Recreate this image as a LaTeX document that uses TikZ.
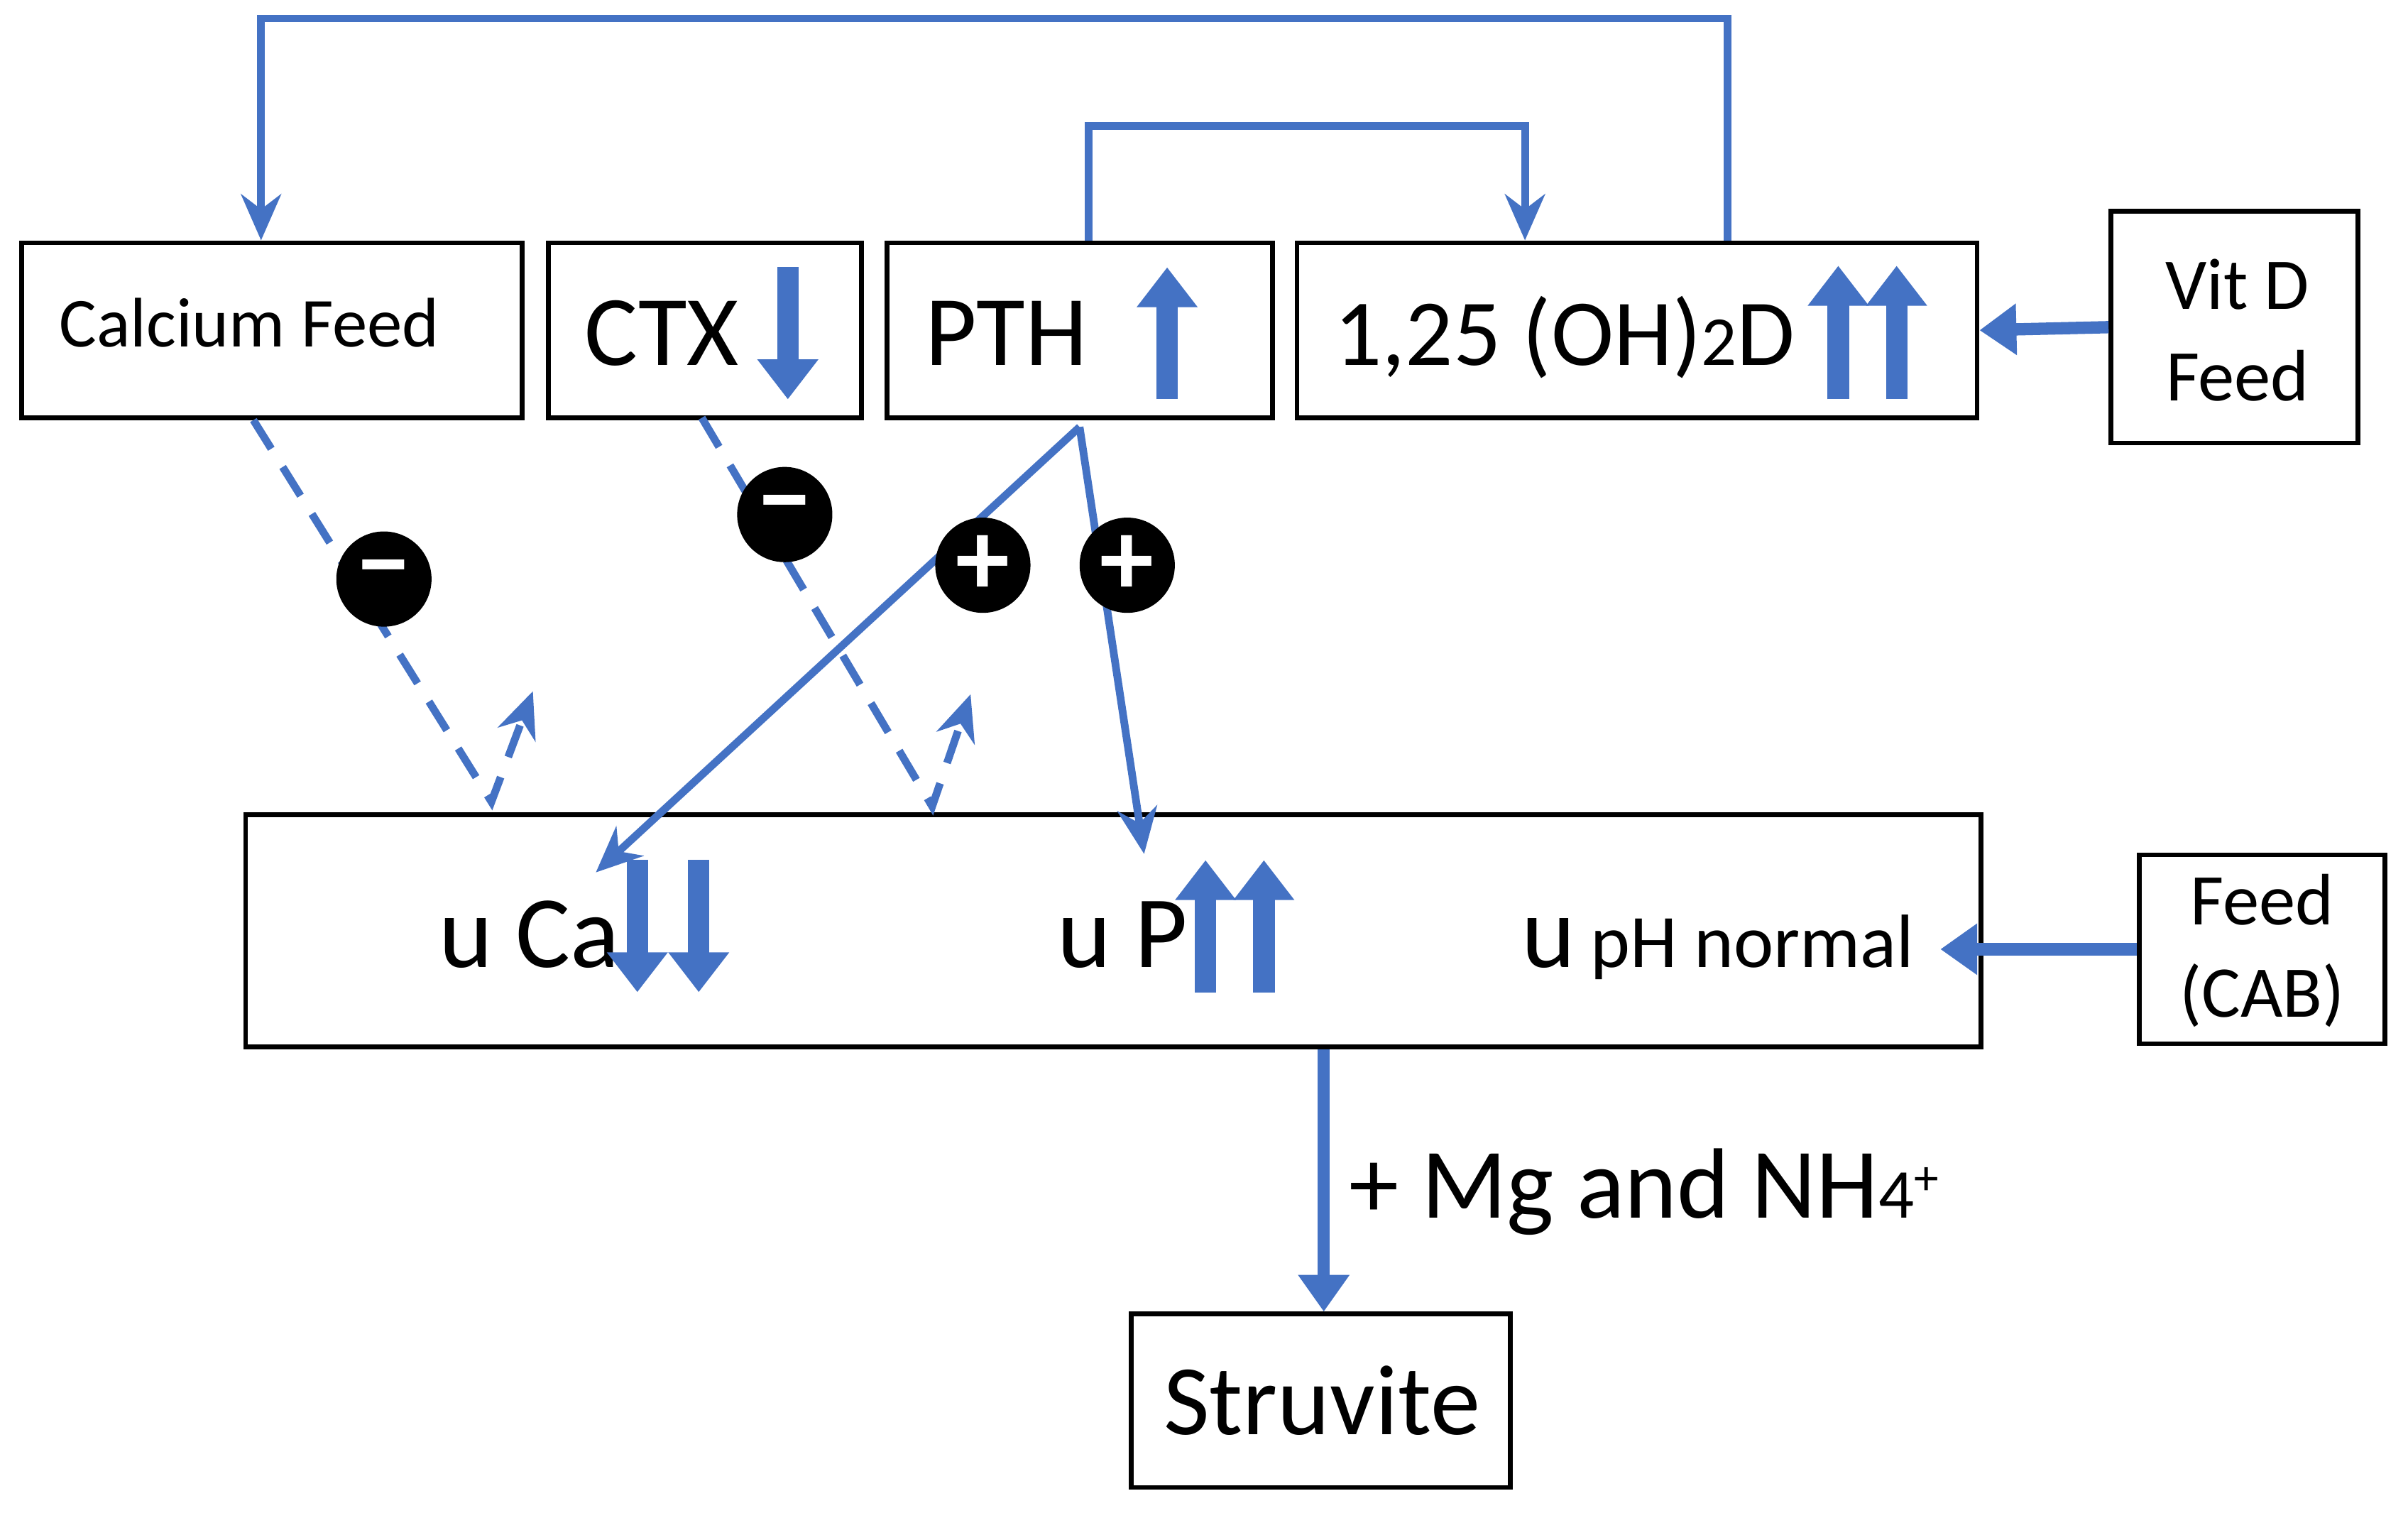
\documentclass[tikz,border=0pt]{standalone}
\usepackage{fontspec}
\setmainfont{Carlito}
\usetikzlibrary{arrows.meta}
\definecolor{cBlue}{RGB}{68,114,196}

\begin{document}
\begin{tikzpicture}[x=0.1mm, y=-0.1mm, line join=miter]

% Stiler.
\tikzset{
  box/.style={draw=black, line width=0.3mm, inner sep=0pt},
  lbl/.style={inner sep=0pt, anchor=base west, text=black},
  flow/.style={draw=cBlue, line width=0.5mm, -{Stealth[length=3mm,width=2.6mm]}},
  hint/.style={flow, dashed, dash pattern=on 2.2mm off 1.4mm},
  blk/.style={draw=cBlue, line width=1.4mm, -{Triangle[length=2.6mm,width=3.8mm]}},
  side/.style={draw=cBlue, line width=0.8mm, -{Triangle[length=2.4mm,width=3.2mm]}},
  sign/.style={circle, fill=black, minimum size=6.2mm, inner sep=0pt, text=white, font=\bfseries\fontsize{20}{20}\selectfont}
}

\useasboundingbox (0,0) rectangle (1568,985);

% Bokser.
\node (calc) [box, minimum width=326*0.1mm, minimum height=114*0.1mm] at (177,215) {};
\node (ctx)  [box, minimum width=204*0.1mm, minimum height=114*0.1mm] at (459,215) {};
\node (pth)  [box, minimum width=251*0.1mm, minimum height=114*0.1mm] at (703,215) {};
\node (vit)  [box, minimum width=443*0.1mm, minimum height=114*0.1mm] at (1066,215) {};
\node (vitd) [box, minimum width=161*0.1mm, minimum height=151*0.1mm] at (1455,213) {};
\node (urin) [box, minimum width=1130*0.1mm, minimum height=151*0.1mm] at (725,606) {};
\node (cab)  [box, minimum width=160*0.1mm, minimum height=123*0.1mm] at (1473,618) {};
\node (stru) [box, minimum width=247*0.1mm, minimum height=113*0.1mm] at (860,912) {};

% Tekster.
\node [lbl, font=\fontsize{13}{13}\selectfont] at (38,226) {Calcium Feed};
\node [lbl, font=\fontsize{18.5}{18.5}\selectfont] at (380,238) {CTX};
\node [lbl, font=\fontsize{18.5}{18.5}\selectfont] at (602,238) {PTH};
\node [lbl, font=\fontsize{17.5}{17.5}\selectfont] at (868,238) {1,25 (OH){\fontsize{13}{13}\selectfont 2}D};
\node [font=\fontsize{13.5}{17}\selectfont, align=center] at (1457,215) {Vit D\\Feed};
\node [font=\fontsize{13.5}{17}\selectfont, align=center] at (1473,619) {Feed\\(CAB)};
\node [lbl, font=\fontsize{19}{19}\selectfont] at (285,630) {u Ca};
\node [lbl, font=\fontsize{19}{19}\selectfont] at (688,630) {u P};
\node [lbl, font=\fontsize{19}{19}\selectfont] at (990,630) {u};
\node [lbl, font=\fontsize{14}{14}\selectfont] at (1035,630) {pH normal};
\node [lbl, font=\fontsize{18.5}{18.5}\selectfont] at (757,934) {Struvite};
\node (mg) [lbl, font=\fontsize{18.5}{18.5}\selectfont] at (878,793) {+ Mg and NH{\fontsize{13}{13}\selectfont 4\textsuperscript{+}}};

% Blokkpiler i boksene.
\draw[blk] (513,174) -- (513,260);
\draw[blk] (760,260) -- (760,174);
\foreach \x in {1197,1235}{
  \draw[blk] (\x,260) -- (\x,173);
}
\foreach \x in {415,455}{
  \draw[blk] (\x,560) -- (\x,646);
}
\foreach \x in {785,823}{
  \draw[blk] (\x,646) -- (\x,560);
}
\draw[side] (vitd.west) -- (vit.east);
\draw[side] (cab.west) -- ++(-128,0);

% Tilbakekoblinger.
\coordinate (lt) at (1125,12);
\coordinate (lc) at (170,12);
\draw[flow] (vit.north -| lt) -- (lt) -- (lc) -- (calc.north -| lc);
\coordinate (pt) at (709,82);
\coordinate (pv) at (993,82);
\draw[flow] (pth.north -| pt) -- (pt) -- (pv) -- (vit.north -| pv);

% PTH virkning.
\coordinate (pb) at (703,278);
\coordinate (uca) at (388,568);
\coordinate (up) at (745,556);
\draw[flow] (pb) -- (uca);
\draw[flow] (pb) -- (up);

% Hemming.
\coordinate (c1) at (320,522);
\coordinate (c2) at (457,272);
\coordinate (c3) at (607,525);
\draw[hint] (calc.south -| 165,0) -- (c1) -- (347,450);
\draw[hint] (c2) -- (c3) -- (632,452);

% Struvitt.
\draw[side] (urin.south -| 862,0) -- (stru.north -| 862,0);

% Fortegn.
\node (m1) [sign] at (250,377) {\textminus};
\node (m2) [sign] at (511,335) {\textminus};
\node (p1) [sign] at (640,368) {+};
\node (p2) [sign] at (734,368) {+};
\end{tikzpicture}
\end{document}
